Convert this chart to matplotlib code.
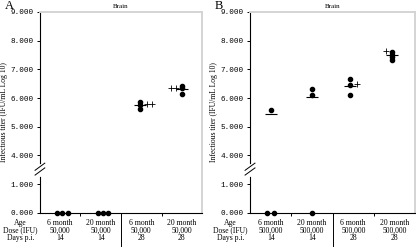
import numpy as np
import matplotlib.pyplot as plt

"""
Brain infectious titer, panels A and B, broken y axis

"""

# group labels under the x axis
ages = ["6 month", "20 month", "6 month", "20 month"]
doses_a = ["50,000", "50,000", "50,000", "50,000"]
doses_b = ["500,000", "500,000", "500,000", "500,000"]
days = ["14", "14", "28", "28"]
row_names = ["Age", "Dose (IFU)", "Days p.i."]

# titers (log10 IFU/mL) per group
titers_a = [[0, 0, 0], [0, 0, 0], [5.87, 5.76, 5.62], [6.43, 6.36, 6.15]]
means_a = [None, None, 5.77, 6.33]
plus_a = [[], [], [5.80, 5.80], [6.36, 6.36]]

titers_b = [[0, 0, 5.58], [0, 6.32, 6.10], [6.67, 6.46, 6.11],
            [7.61, 7.50, 7.44, 7.33]]
means_b = [5.45, 6.05, 6.43, 7.50]
plus_b = [[], [], [6.49], [7.62]]

yticks = [0, 1, 4, 5, 6, 7, 8, 9]

SERIF = "Liberation Serif"
MONO = "Liberation Mono"


def fwd(v):
    # 0-1 kept, 1-4 squashed, 4-9 shifted down by 2
    v = np.asarray(v, dtype=float)
    return np.where(v <= 1, v, np.where(v >= 4, v - 2, 1 + (v - 1) / 3))


def inv(p):
    p = np.asarray(p, dtype=float)
    return np.where(p <= 1, p, np.where(p >= 2, p + 2, 1 + (p - 1) * 3))


def draw_panel(ax, titers, means, plus, doses, dot_shift, zero_spread,
               plus_offsets, letter):
    ax.set_yscale("function", functions=(fwd, inv))
    ax.set_ylim(0, 9)
    ax.set_xlim(-0.5, 3.5)

    for g, vals in enumerate(titers):
        zeros = [v for v in vals if v == 0]
        others = [v for v in vals if v != 0]
        # zeros spread out side by side, others stacked at the group centre
        if zeros:
            zx = g + dot_shift[g] + np.array(zero_spread[g], dtype=float)
            zx = np.broadcast_to(zx, (len(zeros),))
            ax.plot(zx, zeros, "o", color="black", ms=3.0, clip_on=False,
                    zorder=4)
        if others:
            ax.plot([g + dot_shift[g]] * len(others), others, "o",
                    color="black", ms=3.0, zorder=4)
        if means[g] is not None:
            ax.plot(g + dot_shift[g], means[g], "_", color="black", ms=8,
                    mew=0.8, zorder=3)
        if plus[g]:
            ax.plot(g + np.array(plus_offsets[g]), plus[g], "+", color="black",
                    ms=4.5, mew=0.6, zorder=3)

    # axis styling
    ax.set_yticks(yticks)
    ax.set_yticklabels(["%.3f" % t for t in yticks], fontfamily=MONO,
                       fontsize=5.5)
    ax.yaxis.set_minor_locator(plt.NullLocator())
    ax.set_xticks([0.5, 1.5, 2.5])
    ax.set_xticklabels([])
    ax.tick_params(axis="both", length=2.5, width=0.7, direction="out",
                   pad=2)
    for side in ["left", "bottom"]:
        ax.spines[side].set_linewidth(0.8)
    for side in ["top", "right"]:
        ax.spines[side].set_color("#d4d4d4")
        ax.spines[side].set_linewidth(1.4)

    ax.set_title("Brain", fontfamily=SERIF, fontsize=5, pad=3)
    ax.set_ylabel("Infectious titer (IFU/mL Log 10)", fontfamily=SERIF,
                  fontsize=5.5, labelpad=2)

    # break marks on the y axis
    bt = ax.get_yaxis_transform()
    ax.plot([0, 0], [2.0, 3.0], color="white", lw=2, transform=bt,
            clip_on=False, zorder=5)
    for y0 in [1.95, 2.45]:
        ax.plot([-0.03, 0.03], [y0, y0 + 0.75], color="black", lw=0.7,
                transform=bt, clip_on=False, zorder=6)

    # separator between day 14 and day 28
    xt = ax.get_xaxis_transform()
    ax.plot([1.5, 1.5], [0, -0.165], color="black", lw=0.7, transform=xt,
            clip_on=False)

    # labels under the axis
    rows = [ages, doses, days]
    ys = [-0.052, -0.088, -0.124]
    for r, labels in enumerate(rows):
        for g, lab in enumerate(labels):
            ax.text(g, ys[r], lab, transform=xt, ha="center", va="center",
                    fontfamily=SERIF, fontsize=5.5)
        ax.text(-0.12, ys[r], row_names[r], transform=ax.transAxes,
                ha="center", va="center", fontfamily=SERIF, fontsize=5.5)

    ax.text(-0.215, 1.03, letter, transform=ax.transAxes, ha="left",
            va="center", fontfamily=SERIF, fontsize=9)


fig = plt.figure(figsize=(4.16, 2.47), dpi=100)
ax_a = fig.add_axes([0.096, 0.138, 0.39, 0.814])
ax_b = fig.add_axes([0.601, 0.138, 0.397, 0.814])

draw_panel(ax_a, titers_a, means_a, plus_a, doses_a,
           dot_shift=[0.05, 0.05, -0.03, 0.0],
           zero_spread=[[-0.13, 0, 0.13], [-0.13, 0, 0.13], 0, 0],
           plus_offsets=[[], [], [0.13, 0.26], [-0.27, -0.14]],
           letter="A")
draw_panel(ax_b, titers_b, means_b, plus_b, doses_b,
           dot_shift=[0.0, 0.0, -0.08, -0.06],
           zero_spread=[[-0.08, 0.08], 0, 0, 0],
           plus_offsets=[[], [], [0.08], [-0.2]],
           letter="B")

fig.savefig("out.png", dpi=100)
